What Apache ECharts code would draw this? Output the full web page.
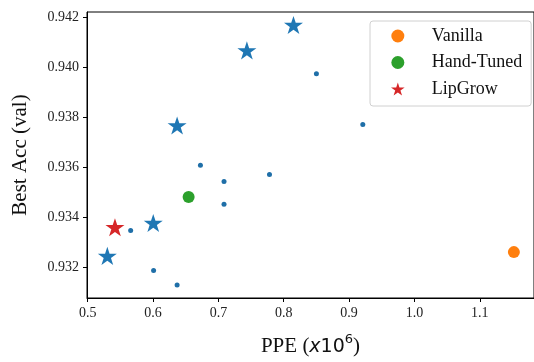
<!DOCTYPE html>
<html>
<head>
<meta charset="utf-8">
<script src="https://cdn.jsdelivr.net/npm/echarts@6/dist/echarts.min.js"></script>
<style>html,body{margin:0;padding:0;background:#fff}#c{width:534px;height:362px}</style>
</head>
<body>
<div id="c"></div>
<script>
// PPE (x10^6), Best Acc (val)
const xTicks = [0.5, 0.6, 0.7, 0.8, 0.9, 1.0, 1.1];
const yTicks = [0.932, 0.934, 0.936, 0.938, 0.940, 0.942];

const searchStars = [[0.530, 0.93244], [0.6003, 0.93376], [0.6368, 0.93767], [0.7436, 0.94068], [0.8149, 0.94170]];
const searchDots = [[0.5657, 0.93346], [0.6008, 0.93185], [0.6368, 0.93127], [0.6725, 0.93607], [0.7086, 0.93542],
                    [0.7086, 0.93451], [0.7782, 0.93570], [0.8500, 0.93974], [0.9210, 0.93771]];
const vanilla = [[1.1522, 0.93259]];
const handTuned = [[0.6544, 0.93480]];
const lipGrow = [[0.5417, 0.93359]];

const STAR = 'path://M50 0L61.23 34.55L97.55 34.55L68.17 55.9L79.39 90.45L50 69.1L20.61 90.45L31.83 55.9L2.45 34.55L38.77 34.55Z';
const serif = '"Liberation Serif", "Times New Roman", serif';
const chart = echarts.init(document.getElementById('c'));
chart.setOption({
  animation: false,
  backgroundColor: '#fff',
  grid: { left: 87, top: 12, right: -7, bottom: 57, show: true, borderColor: '#000', borderWidth: 1 },
  xAxis: {
    type: 'value', min: 0.4989, max: 1.183,
    axisLine: { lineStyle: { color: '#000', width: 1 } },
    axisTick: { show: true, inside: false, length: 4, lineStyle: { color: '#000' }, customValues: xTicks },
    axisLabel: { customValues: xTicks, color: '#222', fontFamily: serif, fontSize: 14, margin: 8,
                 formatter: v => v.toFixed(1) },
    splitLine: { show: false },
    name: '{a|PPE (}{x|x}{b|10}{c|6}{a|)}',
    nameLocation: 'middle', nameGap: 35,
    nameTextStyle: {
      rich: {
        a: { fontFamily: serif, fontSize: 21, color: '#111', verticalAlign: 'bottom', lineHeight: 24 },
        x: { fontFamily: '"DejaVu Sans"', fontStyle: 'italic', fontSize: 19, color: '#111', verticalAlign: 'bottom', lineHeight: 24 },
        b: { fontFamily: '"DejaVu Sans"', fontSize: 19, color: '#111', verticalAlign: 'bottom', lineHeight: 24 },
        c: { fontFamily: '"DejaVu Sans"', fontSize: 13, color: '#111', verticalAlign: 'top', lineHeight: 14 }
      }
    }
  },
  yAxis: {
    type: 'value', min: 0.93075, max: 0.94222,
    axisLine: { show: true, lineStyle: { color: '#000', width: 1 } },
    axisTick: { show: true, inside: false, length: 4, lineStyle: { color: '#000' }, customValues: yTicks },
    axisLabel: { customValues: yTicks, color: '#222', fontFamily: serif, fontSize: 14, margin: 8,
                 formatter: v => v.toFixed(3) },
    splitLine: { show: false },
    name: 'Best Acc (val)', nameLocation: 'middle', nameGap: 56,
    nameTextStyle: { fontFamily: serif, fontSize: 21, color: '#111' }
  },
  legend: {
    data: ['Vanilla', 'Hand-Tuned', 'LipGrow'],
    orient: 'vertical', left: 370, top: 21,
    padding: [6, 9, 8, 21],
    itemWidth: 40, itemHeight: 13, itemGap: 8.5,
    borderColor: '#d0d0d0', borderWidth: 1, borderRadius: 3,
    backgroundColor: 'rgba(255,255,255,0.8)',
    textStyle: { fontFamily: serif, fontSize: 18, color: '#111', padding: [0, 0, 0, 9] }
  },
  series: [
    { name: 'search', type: 'scatter', symbol: STAR, symbolKeepAspect: true, symbolSize: 19, data: searchStars,
      itemStyle: { color: '#1f77b4', opacity: 1 } },
    { name: 'searchDots', type: 'scatter', symbol: 'circle', symbolSize: 5, data: searchDots,
      itemStyle: { color: '#1f6fa8', opacity: 1 } },
    { name: 'Vanilla', type: 'scatter', symbol: 'circle', symbolSize: 12, data: vanilla,
      itemStyle: { color: '#ff7f0e', opacity: 1 } },
    { name: 'Hand-Tuned', type: 'scatter', symbol: 'circle', symbolSize: 12, data: handTuned,
      itemStyle: { color: '#2ca02c', opacity: 1 } },
    { name: 'LipGrow', type: 'scatter', symbol: STAR, symbolKeepAspect: true, symbolSize: 19, data: lipGrow,
      itemStyle: { color: '#d62728', opacity: 1 } }
  ]
});
</script>
</body>
</html>
